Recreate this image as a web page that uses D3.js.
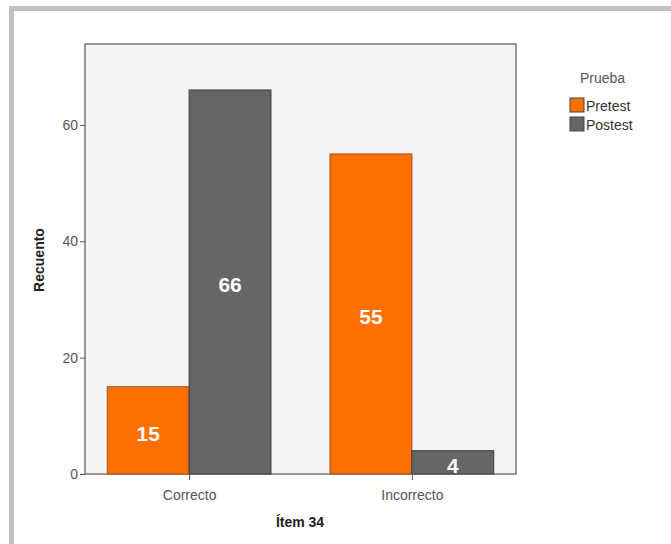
<!DOCTYPE html>
<html><head><meta charset="utf-8">
<script src="https://cdn.jsdelivr.net/npm/d3@7"></script>
<style>body{margin:0;background:#fff;}svg{display:block;}</style>
</head><body>
<script>
const categories = ["Correcto", "Incorrecto"];
const series = ["Pretest", "Postest"];
const pretest = [15, 55];
const postest = [66, 4];
const yTicks = [0, 20, 40, 60];
const colors = ["#ff7000", "#666666"];
const strokes = ["#a04a10", "#3c3c3c"];

const W = 671, H = 544;
const svg = d3.select("body").append("svg").attr("width", W).attr("height", H);
// frame
svg.append("rect").attr("x", 9).attr("y", 6).attr("width", W - 9).attr("height", 5).attr("fill", "#c0c0c0");
svg.append("rect").attr("x", 9).attr("y", 6).attr("width", 5).attr("height", H - 6).attr("fill", "#c0c0c0");

const pl = 85, pr = 516, pt = 44, pb = 474;
const y = d3.scaleLinear().domain([0, 73.9]).range([pb, pt]);
const x0 = d3.scaleBand().domain(categories).range([pl, pr]).paddingInner(0.265).paddingOuter(0.1);
const x1 = d3.scaleBand().domain(series).range([0, x0.bandwidth()]);

svg.append("rect").attr("x", pl).attr("y", pt).attr("width", pr - pl).attr("height", pb - pt)
  .attr("fill", "#f4f4f4").attr("stroke", "#777").attr("stroke-width", 1.5);

const data = [];
categories.forEach((c, i) => {
  data.push({c, s: "Pretest", v: pretest[i], k: 0});
  data.push({c, s: "Postest", v: postest[i], k: 1});
});

const g = svg.append("g");
g.selectAll("rect.bar").data(data).join("rect").attr("class", "bar")
  .attr("x", d => x0(d.c) + x1(d.s))
  .attr("y", d => y(d.v))
  .attr("width", x1.bandwidth())
  .attr("height", d => y(0) - y(d.v))
  .attr("fill", d => colors[d.k])
  .attr("stroke", d => strokes[d.k]).attr("stroke-width", 1);

g.selectAll("text.val").data(data).join("text").attr("class", "val")
  .attr("x", d => x0(d.c) + x1(d.s) + x1.bandwidth() / 2)
  .attr("y", d => (y(d.v) + y(0)) / 2 + 10.5)
  .attr("text-anchor", "middle")
  .attr("font-family", "Liberation Sans, Arial, sans-serif")
  .attr("font-weight", "bold").attr("font-size", 21).attr("fill", "#fff")
  .text(d => d.v);

// y axis
const yAxis = d3.axisLeft(y).tickValues(yTicks).tickSize(5).tickSizeOuter(0);
const ya = svg.append("g").attr("transform", `translate(${pl},0)`).call(yAxis);
ya.select(".domain").remove();
ya.selectAll("line").attr("stroke", "#555");
ya.selectAll("text").attr("font-family", "Liberation Sans, Arial, sans-serif").attr("font-size", 14).attr("fill", "#555").attr("dx", "1");

// x axis
const xAxis = d3.axisBottom(d3.scalePoint().domain(categories).range([x0("Correcto") + x0.bandwidth() / 2, x0("Incorrecto") + x0.bandwidth() / 2])).tickSize(6).tickSizeOuter(0);
const xa = svg.append("g").attr("transform", `translate(0,${pb})`).call(xAxis);
xa.select(".domain").remove();
xa.selectAll("line").attr("stroke", "#555");
xa.selectAll("text").attr("font-family", "Liberation Sans, Arial, sans-serif").attr("font-size", 14).attr("fill", "#555").attr("dy", "1.2em");

svg.append("text").attr("x", 300).attr("y", 527).attr("text-anchor", "middle")
  .attr("font-family", "Liberation Sans, Arial, sans-serif").attr("font-weight", "bold").attr("font-size", 14).attr("fill", "#222").text("Ítem 34");
svg.append("text").attr("transform", "translate(44,260) rotate(-90)").attr("text-anchor", "middle")
  .attr("font-family", "Liberation Sans, Arial, sans-serif").attr("font-weight", "bold").attr("font-size", 14).attr("fill", "#222").text("Recuento");

// legend
const lg = svg.append("g");
lg.append("text").attr("x", 580).attr("y", 83).attr("font-family", "Liberation Sans, Arial, sans-serif").attr("font-size", 14).attr("fill", "#555").text("Prueba");
series.forEach((s, i) => {
  lg.append("rect").attr("x", 570).attr("y", 98 + i * 19).attr("width", 14).attr("height", 14)
    .attr("fill", colors[i]).attr("stroke", "#444").attr("stroke-width", 1);
  lg.append("text").attr("x", 586).attr("y", 111 + i * 19).attr("font-family", "Liberation Sans, Arial, sans-serif").attr("font-size", 14).attr("fill", "#333").text(s);
});
</script>
</body></html>
